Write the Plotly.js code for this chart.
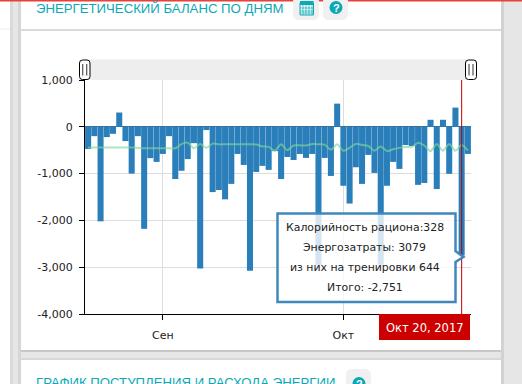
<!DOCTYPE html>
<html><head><meta charset="utf-8">
<script src="https://cdn.plot.ly/plotly-3.0.1.min.js"></script>
<style>html,body{margin:0;padding:0;background:#fff;overflow:hidden}#c{width:522px;height:384px}</style>
</head><body><div id="c"></div>
<script>
var days = ['08-20','08-21','08-22','08-23','08-24','08-25','08-26','08-27','08-28','08-29','08-30','08-31',
'09-01','09-02','09-03','09-04','09-05','09-06','09-07','09-08','09-09','09-10','09-11','09-12','09-13','09-14','09-15','09-16','09-17','09-18','09-19','09-20','09-21','09-22','09-23','09-24','09-25','09-26','09-27','09-28','09-29',
'10-01','10-02','10-03','10-04','10-05','10-06','10-07','10-08','10-09','10-10','10-11','10-12','10-13','10-14','10-15','10-16','10-17','10-18','10-19','10-20','10-21'];
var balance = [-475,-200,-2020,-220,-150,305,-305,-1000,-200,-2180,-670,-750,-580,-200,-1115,-940,-690,-350,-3030,-70,-1395,-1350,-1550,-1220,-580,-815,-3075,-965,-835,-920,-520,-1115,-645,-710,-580,-665,-580,-2955,-665,-1050,495,-1260,-1640,-865,-1220,-600,-985,-2950,-1260,-750,-900,-390,-410,-1240,-1200,150,-1330,150,-1005,410,-2751,-580];
var trendLine = [-440,-440,-440,-440,-440,-440,-440,-440,-450,-460,-460,-460,-460,-460,-460,-370,-340,-460,-370,-450,-360,-375,-375,-375,-375,-375,-375,-380,-420,-430,-510,-375,-500,-400,-395,-400,-370,-375,-380,-490,-375,-510,-450,-365,-390,-410,-510,-420,-520,-480,-450,-430,-430,-340,-400,-520,-370,-510,-370,-510,-390,-510];
var yTickVals = [1000,0,-1000,-2000,-3000,-4000];
var yTickText = ['1,000','0','-1,000','-2,000','-3,000','-4,000'];
var xTickVals = ['09-01','10-01'];
var xTickText = ['Сен','Окт'];
var cursorDay = '10-20';
var tipLines = ['Калорийность рациона:328','Энергозатраты: 3079','из них на тренировки 644','Итого: -2,751'];

var L=85,R=471,T=80,B=314;
function X(p){return (p-L)/(R-L);}
function Y(p){return (B-p)/(B-T);}
function rect(x0,y0,x1,y1,fill,layer){return {type:'rect',xref:'paper',yref:'paper',x0:X(x0),x1:X(x1),y0:Y(y0),y1:Y(y1),fillcolor:fill,line:{width:0},layer:layer||'below'};}
function pth(pts,close){var s='';pts.forEach(function(q,i){s+=(i?'L':'M')+X(q[0])+','+Y(q[1]);});return s+(close?'Z':'');}
function poly(pts,fill,stroke,w,layer){return {type:'path',xref:'paper',yref:'paper',path:pth(pts,true),fillcolor:fill,line:{color:stroke,width:w},layer:layer||'above'};}
function seg(x0,y0,x1,y1,c,w,layer){return {type:'line',xref:'paper',yref:'paper',x0:X(x0),x1:X(x1),y0:Y(y0),y1:Y(y1),line:{color:c,width:w},layer:layer||'above'};}
function rr(x0,y0,x1,y1,r,fill,stroke,w,layer){
  var s='M'+X(x0+r)+','+Y(y0)+'L'+X(x1-r)+','+Y(y0)+'Q'+X(x1)+','+Y(y0)+' '+X(x1)+','+Y(y0+r)+'L'+X(x1)+','+Y(y1-r)+'Q'+X(x1)+','+Y(y1)+' '+X(x1-r)+','+Y(y1)+'L'+X(x0+r)+','+Y(y1)+'Q'+X(x0)+','+Y(y1)+' '+X(x0)+','+Y(y1-r)+'L'+X(x0)+','+Y(y0+r)+'Q'+X(x0)+','+Y(y0)+' '+X(x0+r)+','+Y(y0)+'Z';
  return {type:'path',xref:'paper',yref:'paper',path:s,fillcolor:fill,line:{color:stroke,width:w},layer:layer||'above'};
}
function txt(x,y,t,size,color,family,anchor,bold){return {xref:'paper',yref:'paper',x:X(x),y:Y(y),text:bold?'<b>'+t+'</b>':t,showarrow:false,xanchor:anchor||'center',yanchor:'middle',font:{size:size,color:color,family:family},borderpad:0,borderwidth:0};}

var shapes=[], ann=[];
var teal='#0aa9b5';
// page and cards
shapes.push(rect(10,0,21,384,'#e6e6e6'));
shapes.push(rect(501,0,522,384,'#e6e6e6'));
shapes.push(rect(10,0,13,384,'#dadada'));
shapes.push(rect(18,0,21,384,'#d6d6d6'));
shapes.push(rect(501,0,504,384,'#d2d2d2'));
shapes.push(rect(21,350,501,360,'#e6e6e6'));
shapes.push(rect(21,350,501,352,'#c8c8c8'));
shapes.push(rect(21,358,501,360,'#d8d8d8'));
shapes.push(seg(21,30,501,30,'#cccccc',1.5,'below'));
shapes.push(seg(0,29,10,29,'#eeeeee',1,'below'));
shapes.push(rect(0,0,522,1.5,'#e8403a'));
// header buttons
shapes.push(rr(293,-4,319,20,6,'#f0f0f0','#f0f0f0',0,'below'));
shapes.push(rr(323,-4,348,20,6,'#f0f0f0','#f0f0f0',0,'below'));
shapes.push(rr(346,369,371,394,6,'#f0f0f0','#f0f0f0',0,'below'));
// calendar icon
shapes.push(rect(300,3,313,15,'#ffffff','below'));
shapes.push({type:'rect',xref:'paper',yref:'paper',x0:X(300),x1:X(313.5),y0:Y(3),y1:Y(15),line:{color:teal,width:1},fillcolor:'rgba(0,0,0,0)'});
shapes.push(rect(300,1,313.5,5,teal,'above'));
[303,306,309,312].forEach(function(v){shapes.push(seg(v,5,v,15,teal,0.7));});
[8,11,13].forEach(function(v){shapes.push(seg(300,v,313,v,teal,0.7));});
// help icons
shapes.push({type:'circle',xref:'paper',yref:'paper',x0:X(329.5),x1:X(342.5),y0:Y(1),y1:Y(14),fillcolor:teal,line:{width:0},layer:'above'});
shapes.push({type:'circle',xref:'paper',yref:'paper',x0:X(352.5),x1:X(365.5),y0:Y(377),y1:Y(390),fillcolor:teal,line:{width:0},layer:'above'});
ann.push(txt(336,7.5,'?',11,'#ffffff','Liberation Sans','center',true));
ann.push(txt(359,383.5,'?',11,'#ffffff','Liberation Sans','center',true));
// titles
ann.push(txt(36,8,'ЭНЕРГЕТИЧЕСКИЙ БАЛАНС ПО ДНЯМ',13.2,teal,'Liberation Sans','left'));
ann.push(txt(36,382,'ГРАФИК ПОСТУПЛЕНИЯ И РАСХОДА ЭНЕРГИИ',13.2,teal,'Liberation Sans','left'));
// scrollbar
shapes.push(rect(85,59.5,471,80,'#eeeeee'));
[[79.5,90],[465.5,476.5]].forEach(function(g){
  shapes.push(rr(g[0],60,g[1],79.5,3,'#ffffff','#000000',1));
  var m=(g[0]+g[1])/2;
  shapes.push(seg(m-2,64,m-2,75.5,'#333333',1));
  shapes.push(seg(m+2,64,m+2,75.5,'#333333',1));
});
// cursor
shapes.push({type:'line',xref:'x',yref:'paper',x0:cursorDay,x1:cursorDay,y0:0,y1:1,line:{color:'#c00000',width:1},layer:'above'});
shapes.push(rect(379,314,470,340,'#cc0000','above'));
ann.push(txt(424.5,328,'Окт 20, 2017',11.5,'#ffffff','DejaVu Sans','center',false));
// tooltip
shapes.push(poly([[277.5,213.5],[455.5,213.5],[455.5,251],[463.5,257],[455.5,262],[455.5,302],[277.5,302]],'rgba(255,255,255,0.8)','#3f87bd',2.5));
tipLines.forEach(function(t,i){ann.push(txt(364.5,227+20*i,t,10.9,'#222222','DejaVu Sans'));});

var traces=[
 {type:'bar',x:days,y:balance,marker:{color:'#2a7fba',line:{width:0}},hoverinfo:'skip',showlegend:false},
 {type:'scatter',mode:'lines',x:days,y:trendLine,line:{color:'rgba(125,215,155,0.65)',width:2,shape:'spline',smoothing:0.8},hoverinfo:'skip',showlegend:false}
];
var layout={
 width:522,height:384,autosize:false,
 margin:{l:L,r:522-R,t:T,b:384-B,pad:0},
 paper_bgcolor:'#ffffff',plot_bgcolor:'rgba(0,0,0,0)',
 bargap:0.03,showlegend:false,
 font:{family:'DejaVu Sans',size:11,color:'#222222'},
 xaxis:{type:'category',categoryorder:'array',categoryarray:days,range:[-0.5,61.5],tickmode:'array',tickvals:xTickVals,ticktext:xTickText,
   showgrid:true,gridcolor:'#dddddd',gridwidth:1,ticks:'outside',ticklen:5,tickcolor:'#000',showline:true,linecolor:'#000',linewidth:1,ticklabelstandoff:6,tickfont:{size:11},zeroline:false,fixedrange:true},
 yaxis:{range:[-4000,1000],tickmode:'array',tickvals:yTickVals,ticktext:yTickText,showgrid:true,gridcolor:'#dddddd',gridwidth:1,ticks:'outside',ticklen:5,tickcolor:'#000',showline:true,linecolor:'#000',linewidth:1,zeroline:true,zerolinecolor:'#3a6f96',zerolinewidth:1,tickfont:{size:11},fixedrange:true,ticklabelstandoff:4},
 shapes:shapes,annotations:ann
};
Plotly.newPlot('c',traces,layout,{displayModeBar:false,staticPlot:true});
</script></body></html>
